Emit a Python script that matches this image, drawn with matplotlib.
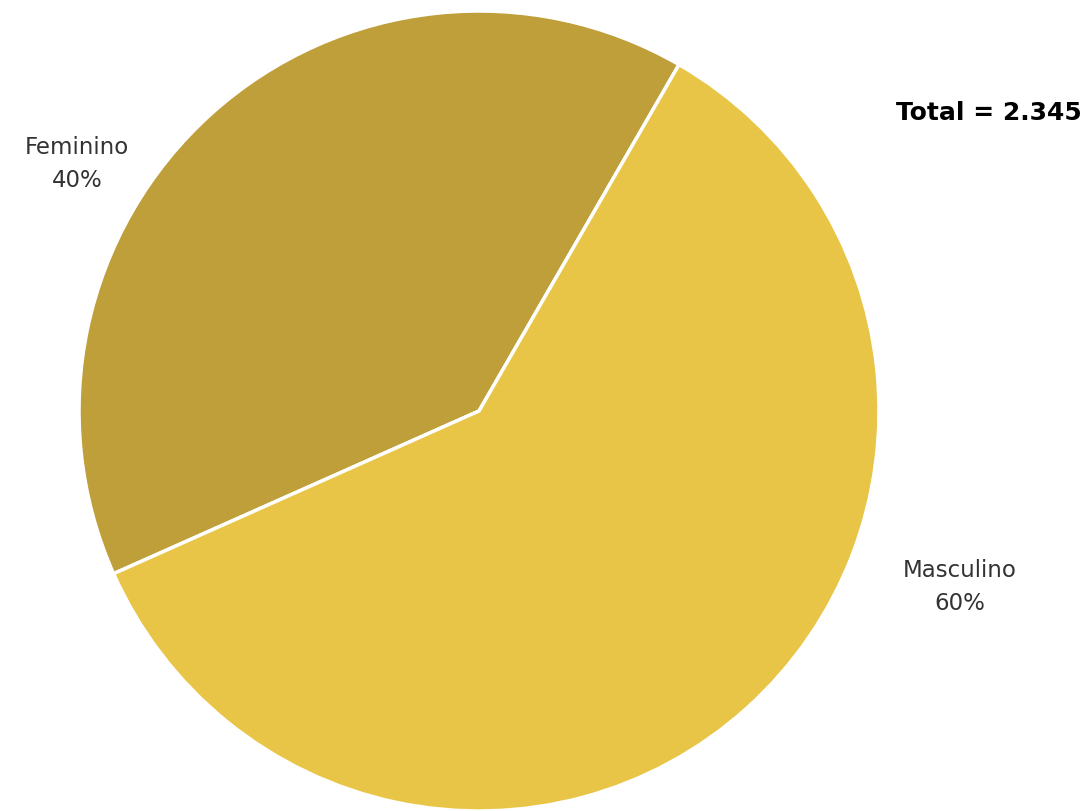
import matplotlib
matplotlib.use("Agg")
import matplotlib.pyplot as plt

# dados
categorias = ["Feminino", "Masculino"]
valores = [938, 1407]
cores = ["#BF9F3A", "#E8C547"]
total_txt = "Total = 2.345"

fig = plt.figure(figsize=(10.88, 8.11), dpi=100)
# eixo quadrado de 800px centrado em (479, 411)
ax = fig.add_axes([79 / 1088, 0.0, 800 / 1088, 800 / 811])
ax.pie(valores, colors=cores, startangle=60, counterclock=True,
       radius=1.0, wedgeprops=dict(edgecolor="white", linewidth=2.5))
ax.set_xlim(-1, 1)
ax.set_ylim(-1, 1)
ax.set_aspect("equal")
ax.axis("off")

pct = [v / sum(valores) * 100 for v in valores]
fig.text(77 / 1088, 1 - 164 / 811, "%s\n%.0f%%" % (categorias[0], pct[0]),
         ha="center", va="center", fontsize=16.5, color="#333333",
         linespacing=1.6)
fig.text(960 / 1088, 1 - 587 / 811, "%s\n%.0f%%" % (categorias[1], pct[1]),
         ha="center", va="center", fontsize=16.5, color="#333333",
         linespacing=1.6)
fig.text(1082 / 1088, 1 - 113 / 811, total_txt, ha="right", va="center",
         fontsize=18, fontweight="bold", color="black")

fig.savefig("out.png", dpi=100)
